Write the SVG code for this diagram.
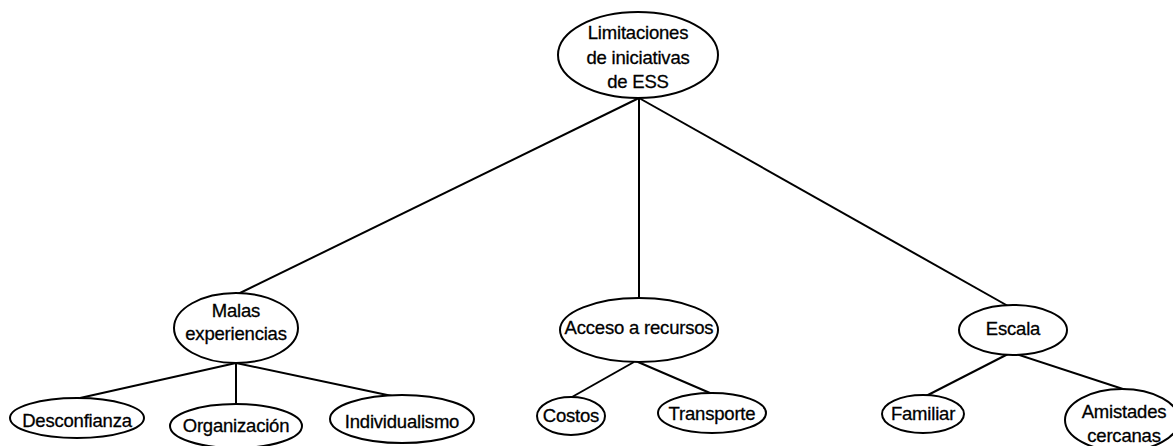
<svg xmlns="http://www.w3.org/2000/svg" width="1173" height="446" viewBox="0 0 1173 446">
<style>
.n ellipse{fill:#fff;stroke:#000;stroke-width:2}
.n text{font-family:"Liberation Sans",Arial,sans-serif;font-size:18.5px;fill:#000;stroke:#000;stroke-width:0.3;text-anchor:middle;letter-spacing:-0.2px}
.c line{stroke:#000;stroke-width:2}
</style>
<rect width="1173" height="446" fill="#fff"/>
<g class="c" id="connectors">
<line x1="639" y1="98" x2="238" y2="294"/>
<line x1="639" y1="98" x2="639" y2="298"/>
<line x1="639" y1="98" x2="1008" y2="306"/>
<line x1="236" y1="363" x2="80" y2="398"/>
<line x1="236" y1="363" x2="236" y2="405"/>
<line x1="236" y1="363" x2="392" y2="396"/>
<line x1="634" y1="362" x2="572" y2="397"/>
<line x1="638" y1="362" x2="710" y2="393"/>
<line x1="1008" y1="354" x2="926" y2="396"/>
<line x1="1016" y1="354" x2="1126" y2="390"/>
</g>
<g class="n" id="root"><ellipse cx="638" cy="55" rx="80" ry="43"/><text x="638" y="39">Limitaciones</text><text x="638" y="64">de iniciativas</text><text x="638" y="88">de ESS</text></g>
<g class="n" id="malas"><ellipse cx="236" cy="328" rx="62" ry="35"/><text x="236" y="317">Malas</text><text x="236" y="340">experiencias</text></g>
<g class="n" id="acceso"><ellipse cx="639" cy="330" rx="79" ry="32"/><text x="639" y="334">Acceso a recursos</text></g>
<g class="n" id="escala"><ellipse cx="1013" cy="330" rx="54" ry="25"/><text x="1013" y="335">Escala</text></g>
<g class="n" id="desconfianza"><ellipse cx="77" cy="418" rx="67" ry="20"/><text x="77" y="427">Desconfianza</text></g>
<g class="n" id="organizacion"><ellipse cx="236" cy="426" rx="66" ry="22"/><text x="236" y="432">Organización</text></g>
<g class="n" id="individualismo"><ellipse cx="402" cy="419" rx="72" ry="24"/><text x="402" y="428">Individualismo</text></g>
<g class="n" id="costos"><ellipse cx="571" cy="416" rx="34" ry="19"/><text x="571" y="422">Costos</text></g>
<g class="n" id="transporte"><ellipse cx="712" cy="413" rx="54" ry="20"/><text x="712" y="420">Transporte</text></g>
<g class="n" id="familiar"><ellipse cx="923" cy="414" rx="41" ry="19"/><text x="923" y="420">Familiar</text></g>
<g class="n" id="amistades"><ellipse cx="1122" cy="420" rx="57" ry="31"/><text x="1124" y="418">Amistades</text><text x="1124" y="442">cercanas</text></g>
</svg>
